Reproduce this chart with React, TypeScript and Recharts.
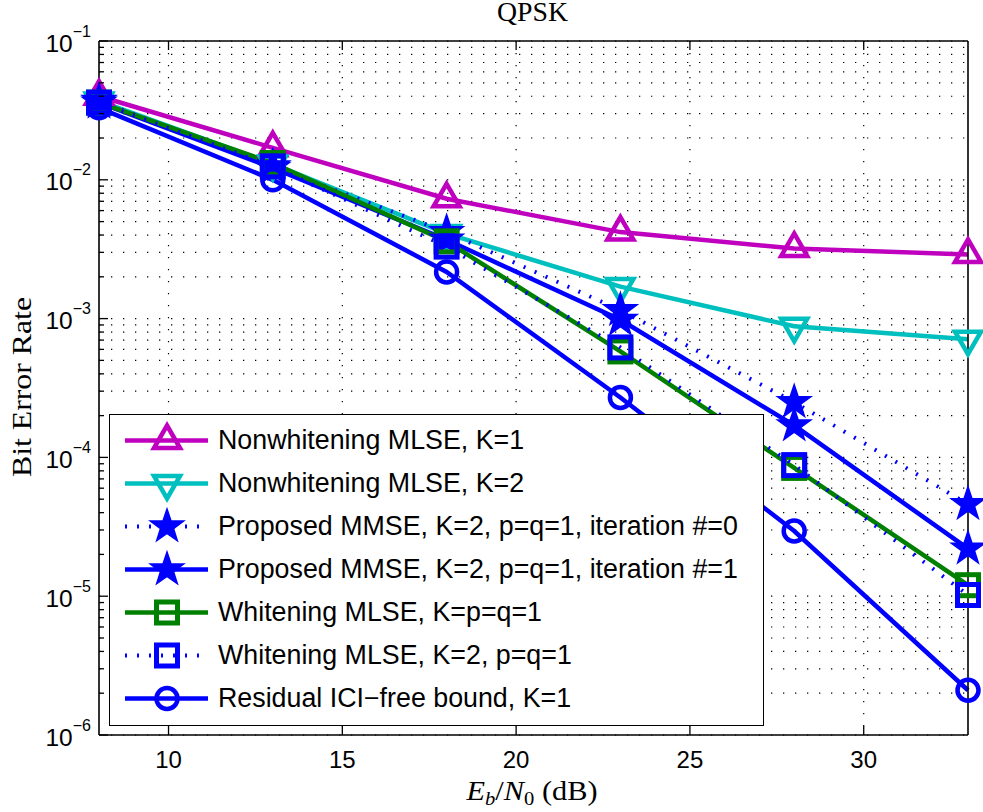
import React from 'react';
import { LineChart, Line, XAxis, YAxis, CartesianGrid, Legend } from 'recharts';

// ---------- data ----------
const snr = [8, 13, 18, 23, 28, 33];
const nwK1 = [0.04, 0.017, 0.0073, 0.0042, 0.0032, 0.0029];
const nwK2 = [0.037, 0.013, 0.0041, 0.0017, 0.00088, 0.00071];
const mmseIt0 = [0.037, 0.0125, 0.0042, 0.00115, 0.00025, 0.000046];
const mmseIt1 = [0.036, 0.0122, 0.0037, 0.00098, 0.00017, 0.000022];
const whitenK1 = [0.036, 0.0132, 0.0036, 0.00058, 0.000084, 0.000012];
const whitenK2 = [0.036, 0.0125, 0.0033, 0.00062, 0.000088, 0.0000102];
const bound = [0.033, 0.01, 0.00217, 0.00027, 0.0000295, 0.0000021];

const xTicks = [10, 15, 20, 25, 30];
const yMajorTicks = [1e-6, 1e-5, 1e-4, 1e-3, 1e-2, 1e-1];
const yMinorMult = [2, 3, 4, 5, 6, 7, 8, 9];
const yTicks = yMajorTicks.flatMap((d, i) =>
  i < yMajorTicks.length - 1 ? [d, ...yMinorMult.map((m) => m * d)] : [d]
);

const titleText = 'QPSK';
const yLabelText = 'Bit Error Rate';

const series = [
  { key: 'nwK1', values: nwK1, name: 'Nonwhitening MLSE, K=1', color: '#BF00BF', shape: 'up', dotted: false },
  { key: 'nwK2', values: nwK2, name: 'Nonwhitening MLSE, K=2', color: '#00BFBF', shape: 'down', dotted: false },
  { key: 'it0', values: mmseIt0, name: 'Proposed MMSE, K=2, p=q=1, iteration #=0', color: '#0000FF', shape: 'star', dotted: true },
  { key: 'it1', values: mmseIt1, name: 'Proposed MMSE, K=2, p=q=1, iteration #=1', color: '#0000FF', shape: 'star', dotted: false },
  { key: 'wK1', values: whitenK1, name: 'Whitening MLSE, K=p=q=1', color: '#008000', shape: 'square', dotted: false },
  { key: 'wK2', values: whitenK2, name: 'Whitening MLSE, K=2, p=q=1', color: '#0000FF', shape: 'square', dotted: true },
  { key: 'bound', values: bound, name: 'Residual ICI\u2212free bound, K=1', color: '#0000FF', shape: 'circle', dotted: false },
];

const rows = snr.map((x, i) => {
  const r: any = { x };
  series.forEach((s) => (r[s.key] = s.values[i]));
  return r;
});

// ---------- layout ----------
const W = 983;
const H = 812;
const SANS = '"Liberation Sans", Arial, Helvetica, sans-serif';
const SERIF = '"Liberation Serif", "Times New Roman", serif';
const LW = 4.5;
const DOT_DASH = '2 10';

const isDecade = (v: number) => Math.abs(Math.log10(v) - Math.round(Math.log10(v))) < 1e-6;

function starPath(cx: number, cy: number, R: number, r: number) {
  const pts: string[] = [];
  for (let k = 0; k < 10; k++) {
    const a = (-90 + k * 36) * (Math.PI / 180);
    const rad = k % 2 === 0 ? R : r;
    pts.push(`${(cx + rad * Math.cos(a)).toFixed(2)},${(cy + rad * Math.sin(a)).toFixed(2)}`);
  }
  return 'M' + pts.join('L') + 'Z';
}

function Marker({ shape, cx, cy, color }: { shape: string; cx: number; cy: number; color: string }) {
  if (cx == null || cy == null || isNaN(cx) || isNaN(cy)) return null;
  switch (shape) {
    case 'up':
      return (
        <path d={`M${cx},${cy - 15}L${cx + 13},${cy + 7.5}L${cx - 13},${cy + 7.5}Z`} fill="none" stroke={color} strokeWidth={LW} strokeLinejoin="miter" />
      );
    case 'down':
      return (
        <path d={`M${cx},${cy + 15}L${cx + 13},${cy - 7.5}L${cx - 13},${cy - 7.5}Z`} fill="none" stroke={color} strokeWidth={LW} strokeLinejoin="miter" />
      );
    case 'square':
      return <rect x={cx - 10.5} y={cy - 10.5} width={21} height={21} fill="none" stroke={color} strokeWidth={5} />;
    case 'circle':
      return <circle cx={cx} cy={cy} r={10.5} fill="none" stroke={color} strokeWidth={LW} />;
    case 'star':
      return <path d={starPath(cx, cy, 17.5, 6.8)} fill={color} stroke={color} strokeWidth={1.5} strokeLinejoin="miter" />;
    default:
      return null;
  }
}

const makeDot = (shape: string, color: string) => (p: any) => (
  <g key={`${shape}-${p.index}`}>
    <Marker shape={shape} cx={p.cx} cy={p.cy} color={color} />
  </g>
);

// ---------- ticks ----------
const LeftTick = (p: any) => {
  const v = p.payload.value;
  const major = isDecade(v);
  const exp = Math.round(Math.log10(v));
  return (
    <g>
      <line x1={p.x} x2={p.x + (major ? 9 : 5)} y1={p.y} y2={p.y} stroke="#000" strokeWidth={1.3} />
      {major && (
        <text x={p.x - 8} y={p.y + 10.5} textAnchor="end" fontFamily={SANS} fontSize={24.5} fill="#000">
          <tspan>10</tspan>
          <tspan dy={-15} fontSize={16}>{'\u2212' + Math.abs(exp)}</tspan>
        </text>
      )}
    </g>
  );
};

const RightTick = (p: any) => {
  const major = isDecade(p.payload.value);
  return <line x1={p.x} x2={p.x - (major ? 9 : 5)} y1={p.y} y2={p.y} stroke="#000" strokeWidth={1.3} />;
};

const BottomTick = (p: any) => (
  <g>
    <line x1={p.x} x2={p.x} y1={p.y} y2={p.y - 9} stroke="#000" strokeWidth={1.3} />
    <text x={p.x} y={p.y + 33} textAnchor="middle" fontFamily={SANS} fontSize={24} fill="#000">
      {p.payload.value}
    </text>
  </g>
);

const TopTick = (p: any) => <line x1={p.x} x2={p.x} y1={p.y} y2={p.y + 9} stroke="#000" strokeWidth={1.3} />;

// ---------- legend ----------
const LegendBox = () => (
  <div
    style={{
      width: 655,
      height: 312,
      boxSizing: 'border-box',
      border: '1.5px solid #000',
      background: '#fff',
      paddingTop: 4,
      fontFamily: SANS,
      fontSize: 26.8,
      color: '#000',
    }}
  >
    {series.map((s) => (
      <div key={s.key} style={{ height: 43, display: 'flex', alignItems: 'center' }}>
        <svg width={108} height={43} style={{ flex: 'none', display: 'block' }}>
          <line x1={15} x2={98} y1={21.5} y2={21.5} stroke={s.color} strokeWidth={s.dotted ? 4 : LW} strokeDasharray={s.dotted ? DOT_DASH : undefined} />
          <Marker shape={s.shape} cx={57} cy={21.5} color={s.color} />
        </svg>
        <span style={{ whiteSpace: 'nowrap', lineHeight: '43px' }}>{s.name}</span>
      </div>
    ))}
  </div>
);

export default function App() {
  return (
    <div style={{ position: 'relative', width: W, height: H, background: '#fff', overflow: 'hidden' }}>
      <style>{'body{margin:0;}'}</style>
      <LineChart width={W} height={H} data={rows} margin={{ top: 40, right: 14, bottom: 37, left: 39 }}>
        <CartesianGrid
          stroke="#000"
          strokeWidth={1.2}
          strokeDasharray="1.3 10.7"
          horizontalValues={yTicks}
          verticalValues={xTicks}
        />
        <XAxis
          dataKey="x"
          type="number"
          domain={[8, 33]}
          ticks={xTicks}
          interval={0}
          height={40}
          tickSize={0}
          tickMargin={0}
          tickLine={false}
          axisLine={{ stroke: '#000', strokeWidth: 1.6 }}
          tick={BottomTick}
        />
        <XAxis
          xAxisId="top"
          orientation="top"
          dataKey="x"
          type="number"
          domain={[8, 33]}
          ticks={xTicks}
          interval={0}
          height={1}
          tickSize={0}
          tickMargin={0}
          tickLine={false}
          axisLine={{ stroke: '#000', strokeWidth: 1.6 }}
          tick={TopTick}
        />
        <YAxis
          type="number"
          scale="log"
          domain={[1e-6, 1e-1]}
          ticks={yTicks}
          interval={0}
          width={60}
          tickSize={0}
          tickMargin={0}
          tickLine={false}
          axisLine={{ stroke: '#000', strokeWidth: 1.6 }}
          tick={LeftTick}
        />
        <YAxis
          yAxisId="right"
          orientation="right"
          type="number"
          scale="log"
          domain={[1e-6, 1e-1]}
          ticks={yTicks}
          interval={0}
          width={1}
          tickSize={0}
          tickMargin={0}
          tickLine={false}
          axisLine={{ stroke: '#000', strokeWidth: 1.6 }}
          tick={RightTick}
        />
        {series.map((s) => (
          <Line
            key={s.key}
            type="linear"
            dataKey={s.key}
            name={s.name}
            stroke={s.color}
            strokeWidth={s.dotted ? 4 : LW}
            strokeDasharray={s.dotted ? DOT_DASH : undefined}
            dot={makeDot(s.shape, s.color)}
            activeDot={false}
            isAnimationActive={false}
          />
        ))}
        <Legend
          layout="vertical"
          align="center"
          verticalAlign="middle"
          content={() => <LegendBox />}
          wrapperStyle={{ left: 109, top: 414, width: 655, height: 312, right: 'auto', bottom: 'auto' }}
        />
      </LineChart>
      <svg width={W} height={H} style={{ position: 'absolute', left: 0, top: 0, pointerEvents: 'none' }}>
        <text x={532.5} y={21} textAnchor="middle" fontFamily={SERIF} fontSize={27} fill="#000" textLength={71} lengthAdjust="spacingAndGlyphs">
          {titleText}
        </text>
        <text x={532} y={800} textAnchor="middle" fontFamily={SERIF} fontSize={28} fill="#000" textLength={131} lengthAdjust="spacingAndGlyphs">
          <tspan fontStyle="italic">E</tspan>
          <tspan fontStyle="italic" fontSize={19} dy={5}>b</tspan>
          <tspan dy={-5}>/</tspan>
          <tspan fontStyle="italic">N</tspan>
          <tspan fontSize={19} dy={5}>0</tspan>
          <tspan dy={-5}>{' (dB)'}</tspan>
        </text>
        <text
          transform="translate(31,387) rotate(-90)"
          x={0}
          y={0}
          textAnchor="middle"
          fontFamily={SERIF}
          fontSize={28}
          fill="#000"
          textLength={180}
          lengthAdjust="spacingAndGlyphs"
        >
          {yLabelText}
        </text>
      </svg>
    </div>
  );
}
